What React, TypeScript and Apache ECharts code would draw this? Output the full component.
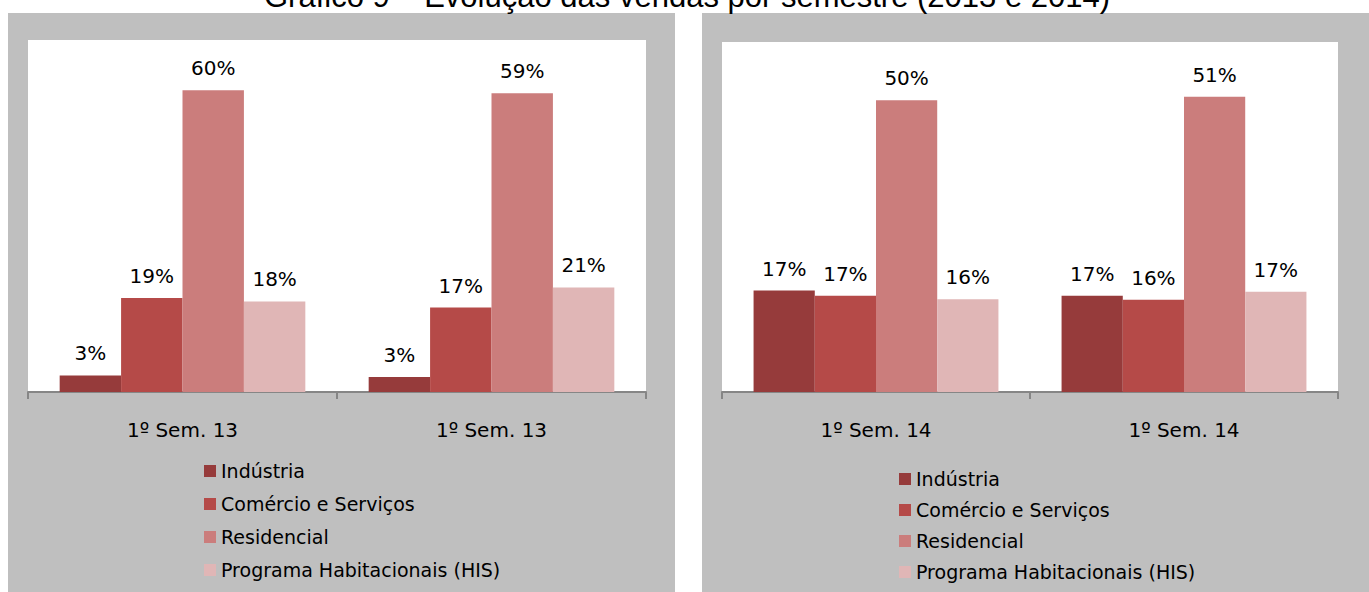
import React, { useEffect, useRef } from "react";
import * as echarts from "echarts";

const seriesNames = ["Indústria", "Comércio e Serviços", "Residencial", "Programa Habitacionais (HIS)"];
const colors = ["#963B3B", "#B54A48", "#CB7D7C", "#E0B6B6"];

const categories2013 = ["1º Sem. 13", "1º Sem. 13"];
const categories2014 = ["1º Sem. 14", "1º Sem. 14"];

// values in % per series, [first category, second category]
const industria2013 = [3.3, 3.0];
const comercio2013 = [18.7, 16.8];
const residencial2013 = [60.0, 59.4];
const his2013 = [18.0, 20.8];

const industria2014 = [17.4, 16.5];
const comercio2014 = [16.5, 15.8];
const residencial2014 = [50.0, 50.6];
const his2014 = [15.9, 17.2];

const titleText = "Gráfico 9 – Evolução das vendas por semestre (2013 e 2014)";

const FONT = "DejaVu Sans";

export default function App() {
  const ref = useRef<HTMLDivElement>(null);
  useEffect(() => {
    document.body.style.margin = "0";
    const chart = echarts.init(ref.current!, null, { renderer: "svg" });
    const data2013 = [industria2013, comercio2013, residencial2013, his2013];
    const data2014 = [industria2014, comercio2014, residencial2014, his2014];
    const mkSeries = (vals: number[][], idx: number) =>
      vals.map((v, i) => ({
        type: "bar",
        name: seriesNames[i],
        xAxisIndex: idx,
        yAxisIndex: idx,
        data: v,
        barGap: "0%",
        barCategoryGap: "20.5%",
        itemStyle: { color: colors[i] },
        label: {
          show: true,
          position: "top",
          distance: 12,
          color: "#000",
          fontFamily: FONT,
          fontSize: 20,
          formatter: (p: any) => Math.round(p.value) + "%",
        },
      }));
    const xAxisCommon = {
      type: "category",
      axisLine: { lineStyle: { color: "#868686", width: 2 } },
      axisTick: { show: true, length: 7, lineStyle: { color: "#868686", width: 2 } },
      axisLabel: { color: "#000", fontFamily: FONT, fontSize: 20, margin: 28 },
    };
    const legendCommon = {
      orient: "vertical",
      icon: "rect",
      itemWidth: 12,
      itemHeight: 12,
      itemGap: 13,
      itemTextGap: 6,
      selectedMode: false,
      textStyle: { color: "#000", fontFamily: FONT, fontSize: 19, lineHeight: 20 },
      data: seriesNames,
    };
    chart.setOption({
      animation: false,
      backgroundColor: "#fff",
      graphic: [
        { type: "rect", z: -10, shape: { x: 8, y: 13, width: 667, height: 579 }, style: { fill: "#BFBFBF" } },
        { type: "rect", z: -10, shape: { x: 702, y: 13, width: 667, height: 579 }, style: { fill: "#BFBFBF" } },
        {
          type: "text",
          x: 687,
          y: -19,
          style: { text: titleText, fill: "#000", font: "31px 'Liberation Sans'", textAlign: "center" },
        },
      ],
      grid: [
        { left: 28, top: 40, width: 618, height: 352, show: true, backgroundColor: "#fff", borderWidth: 0 },
        { left: 722, top: 42, width: 616, height: 350, show: true, backgroundColor: "#fff", borderWidth: 0 },
      ],
      xAxis: [
        { ...xAxisCommon, gridIndex: 0, data: categories2013 },
        { ...xAxisCommon, gridIndex: 1, data: categories2014 },
      ],
      yAxis: [
        { type: "value", gridIndex: 0, min: 0, max: 70, show: false, splitLine: { show: false } },
        { type: "value", gridIndex: 1, min: 0, max: 60, show: false, splitLine: { show: false } },
      ],
      legend: [
        { ...legendCommon, left: 199, top: 456 },
        { ...legendCommon, left: 894, top: 464, itemGap: 11 },
      ],
      series: [...mkSeries(data2013, 0), ...mkSeries(data2014, 1)],
    });
    return () => chart.dispose();
  }, []);
  return <div ref={ref} style={{ position: "absolute", left: 0, top: 0, width: 1369, height: 592 }} />;
}
